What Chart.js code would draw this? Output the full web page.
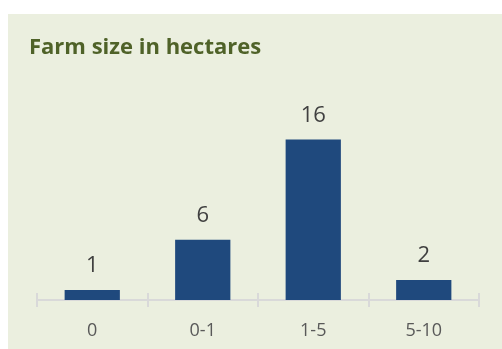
<!DOCTYPE html>
<html>
<head>
<meta charset="utf-8">
<script src="https://cdn.jsdelivr.net/npm/chart.js@4.4.1/dist/chart.umd.min.js"></script>
<style>
  html, body { margin: 0; padding: 0; background: #ffffff; }
  #box {
    position: absolute;
    left: 8px; top: 14px;
    width: 494px; height: 335px;
    background: #ebefdf;
  }
</style>
</head>
<body>
<div id="box"><canvas id="farmChart" width="494" height="335"></canvas></div>
<script>
// datos del gráfico
const categories = ['0', '0-1', '1-5', '5-10'];
const farmCounts = [1, 6, 16, 2];
const chartTitle = 'Farm size in hectares';

const axisGray = '#d9d9d9';

// etiquetas encima de cada barra
const barLabels = {
  id: 'barLabels',
  afterDatasetsDraw(chart) {
    const ctx = chart.ctx;
    const meta = chart.getDatasetMeta(0);
    ctx.save();
    ctx.font = '22px "Open Sans", sans-serif';
    ctx.fillStyle = '#404040';
    ctx.textAlign = 'center';
    ctx.textBaseline = 'bottom';
    meta.data.forEach((bar, i) => {
      ctx.fillText(String(farmCounts[i]), bar.x, bar.y - 13);
    });
    ctx.restore();
  }
};

// marcas del eje x (arriba y abajo de la línea)
const axisTicks = {
  id: 'axisTicks',
  afterDraw(chart) {
    const x = chart.scales.x;
    const ctx = chart.ctx;
    const step = (x.right - x.left) / categories.length;
    ctx.save();
    ctx.strokeStyle = axisGray;
    ctx.lineWidth = 2;
    for (let i = 0; i <= categories.length; i++) {
      const px = Math.round(x.left + step * i);
      ctx.beginPath();
      ctx.moveTo(px, x.top - 7);
      ctx.lineTo(px, x.top + 7);
      ctx.stroke();
    }
    ctx.restore();
  }
};

new Chart(document.getElementById('farmChart'), {
  type: 'bar',
  data: {
    labels: categories,
    datasets: [{
      data: farmCounts,
      backgroundColor: '#1f497d',
      borderWidth: 0,
      barPercentage: 0.5,
      categoryPercentage: 1
    }]
  },
  options: {
    responsive: false,
    animation: false,
    layout: { padding: { left: 21, right: 23, top: 0, bottom: 0 } },
    plugins: {
      legend: { display: false },
      tooltip: { enabled: false },
      title: {
        display: true,
        text: chartTitle,
        align: 'start',
        color: '#4f6228',
        font: { family: '"Open Sans", sans-serif', size: 22, weight: 'bold' },
        padding: { top: 21, bottom: 38 }
      }
    },
    scales: {
      x: {
        grid: { display: false },
        border: { color: axisGray, width: 2 },
        ticks: {
          color: '#595959',
          padding: 12,
          font: { family: '"Open Sans", sans-serif', size: 18 }
        },
        afterFit(scale) { scale.height = 49; }
      },
      y: {
        min: 0,
        max: 20,
        display: true,
        grid: { display: false },
        border: { display: false },
        ticks: { display: false },
        afterFit(scale) { scale.width = 8; }
      }
    }
  },
  plugins: [barLabels, axisTicks]
});
</script>
</body>
</html>
